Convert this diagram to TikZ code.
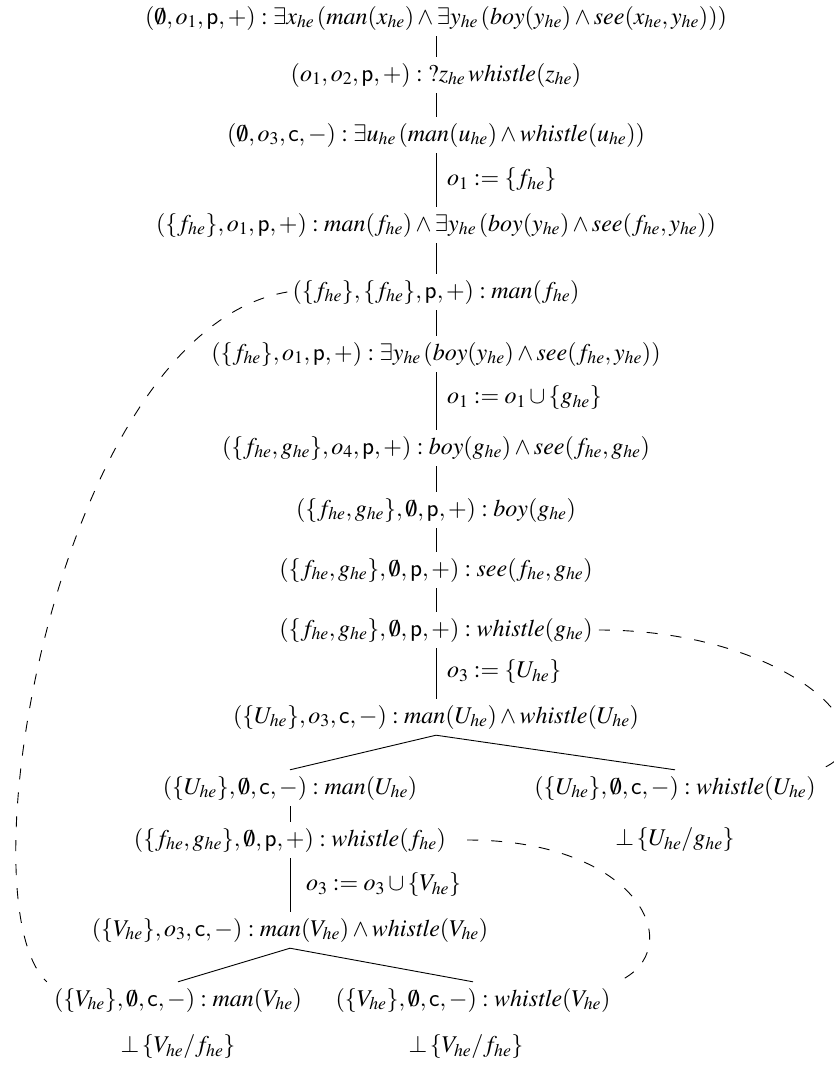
\documentclass[tikz,border=0pt]{standalone}
\usepackage{mathptmx}
\newcommand{\fm}{\fontsize{24}{28}\selectfont}
\tikzset{
  fnode/.style={inner xsep=3pt, inner ysep=6pt, font=\fm},
  lbl/.style={inner sep=0pt, anchor=west, font=\fm},
  tline/.style={line width=0.9pt},
  dline/.style={line width=0.9pt, dash pattern=on 11pt off 13pt}
}
\begin{document}
\begin{tikzpicture}[x=1pt,y=-1pt]
\useasboundingbox (0,0) rectangle (833,1068);
\coordinate (sp) at (436,0);
\coordinate (lsp) at (290,0);
\node[fnode] (n1) at (436,18) {$(\emptyset, o_1, \mathsf{p}, +) : \exists x_{he}\,(\mathit{man}(x_{he}) \wedge \exists y_{he}\,(\mathit{boy}(y_{he}) \wedge \mathit{see}(x_{he}, y_{he})))$};
\node[fnode] (n2) at (436,75) {$(o_1, o_2, \mathsf{p}, +) : \mathord{?}z_{he}\,\mathit{whistle}(z_{he})$};
\node[fnode] (n3) at (436,135) {$(\emptyset, o_3, \mathsf{c}, -) : \exists u_{he}\,(\mathit{man}(u_{he}) \wedge \mathit{whistle}(u_{he}))$};
\node[lbl] (l1) at (447,180) {$o_1 := \{f_{he}\}$};
\node[fnode] (n4) at (436,225) {$(\{f_{he}\}, o_1, \mathsf{p}, +) : \mathit{man}(f_{he}) \wedge \exists y_{he}\,(\mathit{boy}(y_{he}) \wedge \mathit{see}(f_{he}, y_{he}))$};
\node[fnode] (n5) at (436,292) {$(\{f_{he}\}, \{f_{he}\}, \mathsf{p}, +) : \mathit{man}(f_{he})$};
\node[fnode] (n6) at (436,354) {$(\{f_{he}\}, o_1, \mathsf{p}, +) : \exists y_{he}\,(\mathit{boy}(y_{he}) \wedge \mathit{see}(f_{he}, y_{he}))$};
\node[lbl] (l2) at (447,398) {$o_1 := o_1 \cup \{g_{he}\}$};
\node[fnode] (n7) at (436,448) {$(\{f_{he}, g_{he}\}, o_4, \mathsf{p}, +) : \mathit{boy}(g_{he}) \wedge \mathit{see}(f_{he}, g_{he})$};
\node[fnode] (n8) at (436,510) {$(\{f_{he}, g_{he}\}, \emptyset, \mathsf{p}, +) : \mathit{boy}(g_{he})$};
\node[fnode] (n9) at (436,570) {$(\{f_{he}, g_{he}\}, \emptyset, \mathsf{p}, +) : \mathit{see}(f_{he}, g_{he})$};
\node[fnode] (n10) at (436,630) {$(\{f_{he}, g_{he}\}, \emptyset, \mathsf{p}, +) : \mathit{whistle}(g_{he})$};
\node[lbl] (l3) at (447,672) {$o_3 := \{U_{he}\}$};
\node[fnode] (n11) at (436,717) {$(\{U_{he}\}, o_3, \mathsf{c}, -) : \mathit{man}(U_{he}) \wedge \mathit{whistle}(U_{he})$};
\node[fnode] (n12) at (290,788) {$(\{U_{he}\}, \emptyset, \mathsf{c}, -) : \mathit{man}(U_{he})$};
\node[fnode] (n13) at (675,788) {$(\{U_{he}\}, \emptyset, \mathsf{c}, -) : \mathit{whistle}(U_{he})$};
\node[fnode] (n14) at (290,840) {$(\{f_{he}, g_{he}\}, \emptyset, \mathsf{p}, +) : \mathit{whistle}(f_{he})$};
\node[fnode] (n15) at (675,840) {$\bot\,\{U_{he}/g_{he}\}$};
\node[lbl] (l4) at (306,885) {$o_3 := o_3 \cup \{V_{he}\}$};
\node[fnode] (n16) at (290,930) {$(\{V_{he}\}, o_3, \mathsf{c}, -) : \mathit{man}(V_{he}) \wedge \mathit{whistle}(V_{he})$};
\node[fnode] (n17) at (178,1000) {$(\{V_{he}\}, \emptyset, \mathsf{c}, -) : \mathit{man}(V_{he})$};
\node[fnode] (n18) at (473,1000) {$(\{V_{he}\}, \emptyset, \mathsf{c}, -) : \mathit{whistle}(V_{he})$};
\node[fnode] (n19) at (178,1047) {$\bot\,\{V_{he}/f_{he}\}$};
\node[fnode] (n20) at (466,1047) {$\bot\,\{V_{he}/f_{he}\}$};
% spine
\foreach \a/\b in {n1/n2,n2/n3,n3/n4,n4/n5,n5/n6,n6/n7,n7/n8,n8/n9,n9/n10,n10/n11}
  \draw[tline] (\a.south -| sp) -- (\b.north -| sp);
\foreach \a/\b in {n12/n14,n14/n16}
  \draw[tline] (\a.south -| lsp) -- (\b.north -| lsp);
\draw[tline] (n12.north) -- (n11.south) -- (n13.north);
\draw[tline] (n17.north) -- (n16.south) -- (n18.north);
% dashed
\draw[dline] ([xshift=-2pt]n5.west) .. controls (60,330) and (-40,900) .. ([xshift=-4pt]n17.north west);
\draw[dline] ([xshift=3pt]n10.east) .. controls (790,630) and (900,740) .. (n13.north east);
\draw[dline] ([xshift=18pt]n14.east) .. controls (640,840) and (690,950) .. ([xshift=4pt]n18.north east);
\end{tikzpicture}
\end{document}
